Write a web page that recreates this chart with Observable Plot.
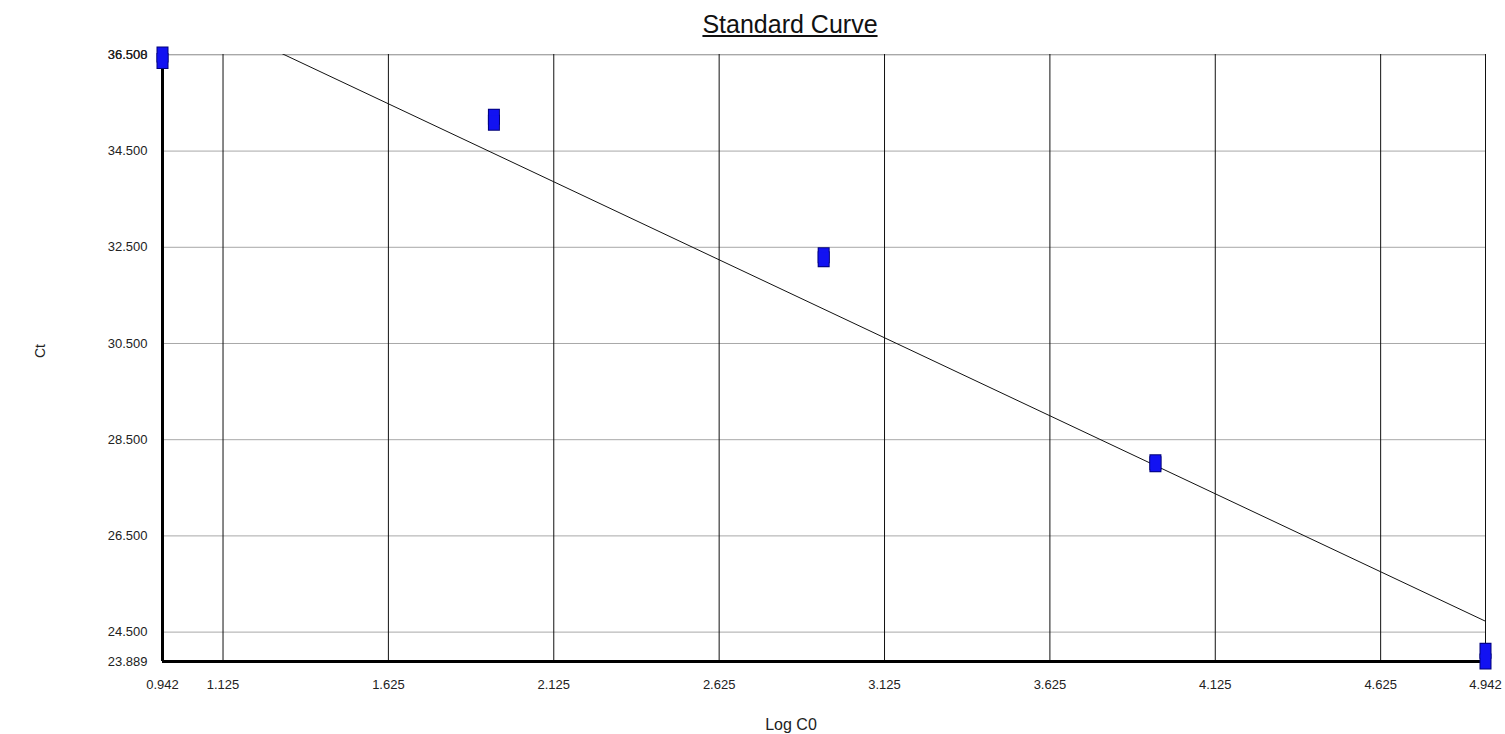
<!DOCTYPE html>
<html>
<head>
<meta charset="utf-8">
<script src="https://cdn.jsdelivr.net/npm/d3@7"></script>
<script src="https://cdn.jsdelivr.net/npm/@observablehq/plot@0.6"></script>
<style>
  html, body { margin: 0; padding: 0; background: #fff; overflow: hidden; }
  #title { box-sizing: border-box; width: 1505px; height: 44px; padding-top: 12px; padding-left: 75px;
           text-align: center; font-family: "Liberation Sans", Arial, sans-serif; font-size: 25px;
           line-height: 24px; color: #111; }
  #title span { text-decoration: underline; }
</style>
</head>
<body>
<div id="title"><span>Standard Curve</span></div>
<div id="chart"></div>
<script>
// Standards: log of starting quantity, replicate Ct values
const logC0 = [0.942, 1.944, 2.941, 3.944, 4.942];
const ctRepA = [36.508, 35.214, 32.336, 28.03, 24.11];
const ctRepB = [36.373, 35.090, 32.253, 27.99, 23.889];

// Linear fit of the standard curve (Ct = slope * logC0 + intercept)
const fitSlope = -3.243;
const fitIntercept = 40.753;

// Axis ranges and tick labels
const xRange = [0.942, 4.942];
const yRange = [23.889, 36.508];
const xTicks = [0.942, 1.125, 1.625, 2.125, 2.625, 3.125, 3.625, 4.125, 4.625, 4.942];
const xGridLines = [1.125, 1.625, 2.125, 2.625, 3.125, 3.625, 4.125, 4.625, 4.942];
const yTicks = [23.889, 24.5, 26.5, 28.5, 30.5, 32.5, 34.5, 36.5, 36.508];
const yGridLines = [24.5, 26.5, 28.5, 30.5, 32.5, 34.5, 36.5, 36.508];

const points = [];
logC0.forEach((x, i) => {
  points.push({x, ct: ctRepA[i]});
  points.push({x, ct: ctRepB[i]});
});
const fitLine = xRange.map(x => ({x, ct: fitSlope * x + fitIntercept}));

const rectSymbol = {
  draw(context) {
    context.rect(-5, -7, 10, 14);
  }
};

const fmt = d3.format(".3f");

const chart = Plot.plot({
  width: 1505,
  height: 690,
  marginTop: 10,
  marginBottom: 73,
  marginLeft: 162,
  marginRight: 20,
  style: {fontFamily: "'Liberation Sans', Arial, sans-serif", fontSize: "13px", color: "#222", background: "#fff"},
  x: {domain: xRange, label: null},
  y: {domain: yRange, label: null},
  marks: [
    Plot.gridY(yGridLines, {stroke: "#a8a8a8", strokeOpacity: 1, strokeWidth: 1}),
    Plot.gridX(xGridLines, {stroke: "#111", strokeOpacity: 1, strokeWidth: 1}),
    Plot.line(fitLine, {x: "x", y: "ct", stroke: "#111", strokeWidth: 1, clip: true}),
    Plot.ruleX([xRange[0]], {stroke: "#000", strokeWidth: 3}),
    Plot.ruleY([yRange[0]], {stroke: "#000", strokeWidth: 3}),
    Plot.dot(points, {x: "x", y: "ct", symbol: rectSymbol, fill: "none", stroke: "#00007a", strokeWidth: 2}),
    Plot.dot(points, {x: "x", y: "ct", symbol: rectSymbol, fill: "#1212f2", stroke: "none"}),
    Plot.axisX(xTicks, {tickSize: 0, tickPadding: 18, tickFormat: fmt, fontSize: 13, label: null}),
    Plot.axisY(yTicks, {tickSize: 0, tickPadding: 15, tickFormat: fmt, fontSize: 13, label: null}),
    Plot.text(["Log C0"], {frameAnchor: "bottom", dx: -33, dy: 57, fontSize: 16, fill: "#222", lineAnchor: "top"}),
    Plot.text(["Ct"], {frameAnchor: "left", dx: -122, rotate: -90, fontSize: 14, fill: "#222"})
  ]
});
document.getElementById("chart").appendChild(chart);
</script>
</body>
</html>
